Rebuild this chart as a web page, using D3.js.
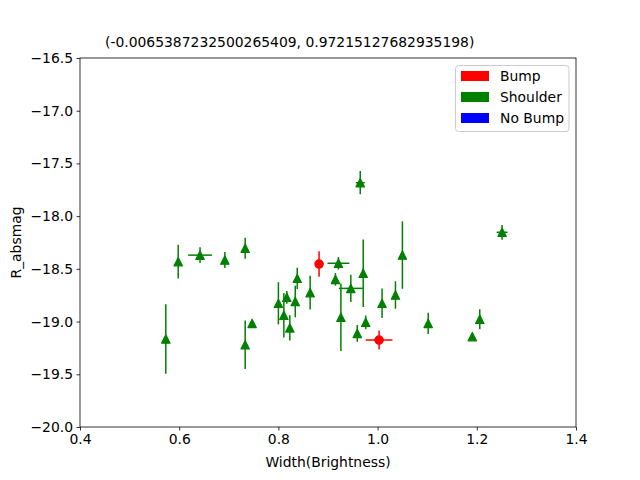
<!DOCTYPE html>
<html>
<head>
<meta charset="utf-8">
<script src="https://cdn.jsdelivr.net/npm/d3@7"></script>
<style>
  body { margin: 0; background: #fff; }
  svg text { font-family: "DejaVu Sans", sans-serif; }
</style>
</head>
<body>
<svg id="chart" width="640" height="480"></svg>
<script>
// shoulder points (green triangles)
const shoulderX = [0.573, 0.598, 0.642, 0.692, 0.733, 0.733, 0.747, 0.800, 0.811, 0.817, 0.823, 0.834, 0.838, 0.864,
  0.915, 0.921, 0.926, 0.946, 0.959, 0.965, 0.971, 0.976, 1.009, 1.036, 1.050, 1.102, 1.191, 1.206, 1.251];
const shoulderY = [-19.165, -18.432, -18.37, -18.416, -18.305, -19.22, -19.017, -18.827, -18.94, -18.77, -19.06, -18.81, -18.59, -18.726,
  -18.60, -18.447, -18.96, -18.685, -19.112, -17.683, -18.542, -19.007, -18.827, -18.748, -18.369, -19.017, -19.143, -18.978, -18.153];
const shoulderYErr = [0.33, 0.16, 0.075, 0.075, 0.1, 0.23, 0.03, 0.2, 0.21, 0.06, 0.12, 0.15, 0.1, 0.16,
  0.06, 0.06, 0.32, 0.13, 0.08, 0.11, 0.32, 0.065, 0.14, 0.13, 0.32, 0.1, 0.03, 0.095, 0.07];
const shoulderXErr = [0, 0, 0.024, 0, 0, 0, 0, 0, 0, 0, 0, 0, 0, 0,
  0, 0.022, 0, 0.024, 0, 0.009, 0, 0, 0, 0, 0, 0, 0, 0, 0.011];

// bump points (red circles)
const bumpX = [0.882, 1.003];
const bumpY = [-18.454, -19.175];
const bumpYErr = [0.12, 0.09];
const bumpXErr = [0, 0.027];

const xTicks = [0.4, 0.6, 0.8, 1.0, 1.2, 1.4];
const yTicks = [-16.5, -17.0, -17.5, -18.0, -18.5, -19.0, -19.5, -20.0];
const legendLabels = ['Bump', 'Shoulder', 'No Bump'];
const legendColors = ['red', 'green', 'blue'];
const titleText = '(-0.0065387232500265409, 0.97215127682935198)';

const margin = { top: 58, right: 64, bottom: 53, left: 80 };
const width = 640 - margin.left - margin.right;
const height = 480 - margin.top - margin.bottom;
const fs = '13.9px';

const svg = d3.select('#chart');
const g = svg.append('g').attr('transform', 'translate(' + margin.left + ',' + margin.top + ')');

const x = d3.scaleLinear().domain([0.4, 1.4]).range([0, width]);
const y = d3.scaleLinear().domain([-20, -16.5]).range([height, 0]);

const fmt = (d) => d3.format('.1f')(d).replace('-', '\u2212');

// axes
const xAxis = g.append('g').attr('transform', 'translate(0,' + height + ')')
  .call(d3.axisBottom(x).tickValues(xTicks).tickFormat(fmt).tickSize(3.5).tickPadding(3.5));
const yAxis = g.append('g')
  .call(d3.axisLeft(y).tickValues(yTicks).tickFormat(fmt).tickSize(3.5).tickPadding(3.5));
[xAxis, yAxis].forEach((a) => {
  a.select('.domain').remove();
  a.selectAll('line').attr('stroke', '#000').attr('stroke-width', 0.8);
  a.selectAll('text').attr('fill', '#000').style('font-size', fs).style('font-family', 'DejaVu Sans');
});

// frame
g.append('rect').attr('width', width).attr('height', height)
  .attr('fill', 'none').attr('stroke', '#000').attr('stroke-width', 0.8);

function drawErrors(xs, ys, yerr, xerr, color) {
  const lines = g.append('g').attr('stroke', color).attr('stroke-width', 1.5);
  xs.forEach((xv, i) => {
    if (yerr[i] > 0) {
      lines.append('line').attr('x1', x(xv)).attr('x2', x(xv))
        .attr('y1', y(ys[i] - yerr[i])).attr('y2', y(ys[i] + yerr[i]));
    }
    if (xerr[i] > 0) {
      lines.append('line').attr('y1', y(ys[i])).attr('y2', y(ys[i]))
        .attr('x1', x(xv - xerr[i])).attr('x2', x(xv + xerr[i]));
    }
  });
}

drawErrors(shoulderX, shoulderY, shoulderYErr, shoulderXErr, 'green');
drawErrors(bumpX, bumpY, bumpYErr, bumpXErr, 'red');

// triangle markers (with edge like matplotlib)
const tri = 'M0,-4.17L-4.17,4.17L4.17,4.17Z';
g.append('g').selectAll('path').data(shoulderX).enter().append('path')
  .attr('d', tri)
  .attr('transform', (d, i) => 'translate(' + x(d) + ',' + y(shoulderY[i]) + ')')
  .attr('fill', 'green').attr('stroke', 'green').attr('stroke-width', 1.2)
  .attr('stroke-linejoin', 'round');

g.append('g').selectAll('circle').data(bumpX).enter().append('circle')
  .attr('cx', (d) => x(d))
  .attr('cy', (d, i) => y(bumpY[i]))
  .attr('r', 4.17)
  .attr('fill', 'red').attr('stroke', 'red').attr('stroke-width', 1.2);

// title
svg.append('text').attr('x', 105).attr('y', 47)
  .style('font-size', fs).text(titleText);

// axis labels
svg.append('text').attr('x', margin.left + width / 2).attr('y', 467)
  .attr('text-anchor', 'middle').style('font-size', fs).text('Width(Brightness)');
svg.append('text').attr('transform', 'translate(21,' + (margin.top + height / 2) + ') rotate(-90)')
  .attr('text-anchor', 'middle').style('font-size', fs).text('R_absmag');

// legend
const legend = svg.append('g').attr('transform', 'translate(455.5,65.5)');
legend.append('rect').attr('width', 113.5).attr('height', 66).attr('rx', 3)
  .attr('fill', '#fff').attr('fill-opacity', 0.8).attr('stroke', '#ccc').attr('stroke-width', 1);
const items = legend.selectAll('.legend').data(legendLabels).enter().append('g')
  .attr('class', 'legend')
  .attr('transform', (d, i) => 'translate(0,' + i * 21 + ')');
items.append('rect').attr('x', 5.5).attr('y', 5.5).attr('width', 28).attr('height', 10)
  .attr('fill', (d, i) => legendColors[i]);
items.append('text').attr('x', 44.5).attr('y', 15.5)
  .style('font-size', fs).text((d) => d);
</script>
</body>
</html>
